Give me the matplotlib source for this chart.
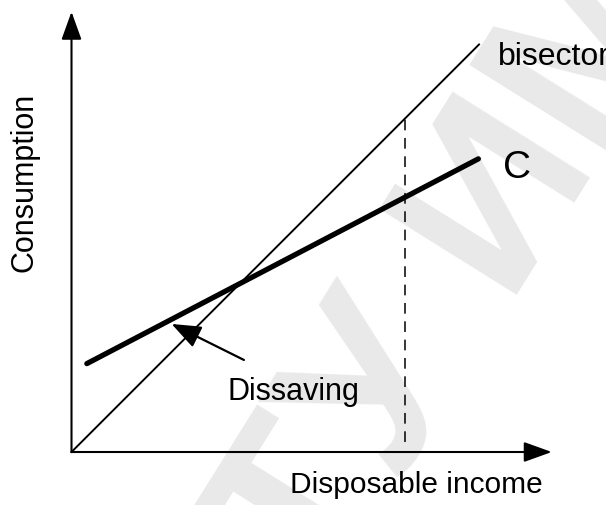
import matplotlib
matplotlib.use("Agg")
import matplotlib.pyplot as plt

plt.rcParams['font.family'] = ['Liberation Sans', 'DejaVu Sans']

# income / consumption units (dashed marker sits at income = 10)
x_axis_end = 14.4
y_axis_end = 13.2

bisector_x = [0.0, 12.22]
bisector_y = [0.0, 12.22]

cons_x = [0.46, 12.2]
cons_y = [2.65, 8.79]

marker_income = 10.0
marker_y = [0.3, 10.0]

dissave_tail = (5.17, 2.76)
dissave_tip = (3.0, 3.84)

fig = plt.figure(figsize=(6.06, 5.05), dpi=100)
ax = fig.add_axes([0, 0, 1, 1])
ax.set_xlim(-2.144, 16.027)
ax.set_ylim(-1.589, 13.553)
ax.axis('off')

# faint watermark behind everything
ax.text(7.45, -4.75, 'ТУ ИМ. П.О. СУХОГО', fontsize=170, fontweight='bold',
        color='#e9e9e9', rotation=58, rotation_mode='anchor',
        ha='left', va='baseline', zorder=0)

# axes with arrow heads
axis_style = '-|>,head_length=0.86,head_width=0.31'
ax.annotate('', xy=(x_axis_end, 0), xytext=(0, 0),
            arrowprops=dict(arrowstyle=axis_style, mutation_scale=20, lw=1.5,
                            color='black', shrinkA=0, shrinkB=0))
ax.annotate('', xy=(0, y_axis_end), xytext=(0, 0),
            arrowprops=dict(arrowstyle=axis_style, mutation_scale=20, lw=1.5,
                            color='black', shrinkA=0, shrinkB=0))

ax.plot(bisector_x, bisector_y, color='black', lw=1.4)
ax.plot(cons_x, cons_y, color='black', lw=3.8, solid_capstyle='round')
ax.plot([marker_income, marker_income], marker_y, color='black', lw=1.1,
        dashes=(7, 5))

ax.annotate('', xy=dissave_tip, xytext=dissave_tail,
            arrowprops=dict(arrowstyle='-|>,head_length=0.9,head_width=0.35',
                            mutation_scale=20, lw=1.6, color='black',
                            shrinkA=0, shrinkB=0))

ax.text(12.79, 11.84, 'bisector', fontsize=23, va='center', ha='left')
ax.text(12.94, 8.52, 'C', fontsize=28, va='center', ha='left')
ax.text(4.69, 1.8, 'Dissaving', fontsize=22, va='center', ha='left')
ax.text(14.14, -0.99, 'Disposable income', fontsize=21.5, va='center', ha='right')
ax.text(-1.42, 8.08, 'Consumption', fontsize=22, va='center', ha='center',
        rotation=90)

fig.savefig('out.png', dpi=100)
